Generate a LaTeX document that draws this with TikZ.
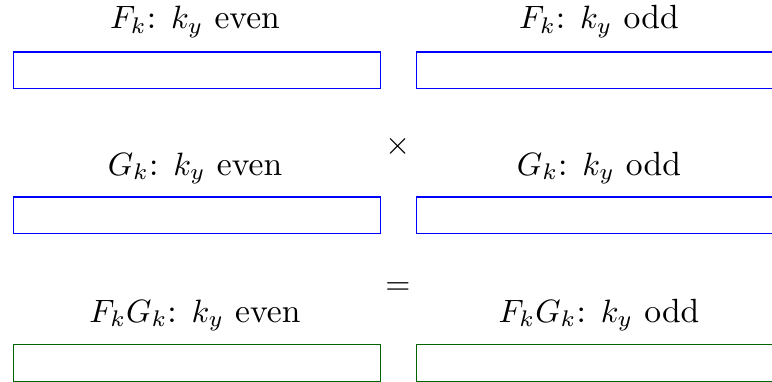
\documentclass[tikz,border=0pt]{standalone}
\definecolor{dkgreen}{RGB}{0,100,0}
\begin{document}
\begin{tikzpicture}[x=0.3096pt,y=-0.3096pt,
  fbox/.style={draw=blue,line width=0.4pt,minimum width=4cm,minimum height=0.4cm,inner sep=0pt,outer sep=0pt},
  gbox/.style={fbox,draw=dkgreen},
  lbl/.style={anchor=base,inner sep=0pt,font=\fontsize{10.4}{12}\selectfont}]
\clip (0,0) rectangle (772,381);
\useasboundingbox (0,0) rectangle (772,381);
% row 1
\node[lbl] (t1) at (195,28.5) {$F_k$: $k_y$ even};
\node[lbl] (t2) at (599,28.5) {$F_k$: $k_y$ odd};
\node[fbox] (b1) at (197,70.4) {};
\node[fbox] (b2) at (600.3,70.4) {};
% times
\node (times) at (398,146) {$\times$};
% row 2
\node[lbl] (t3) at (195,175) {$G_k$: $k_y$ even};
\node[lbl] (t4) at (599,175) {$G_k$: $k_y$ odd};
\node[fbox] (b3) at (197,215.4) {};
\node[fbox] (b4) at (600.3,215.4) {};
% equals
\node (eq) at (398,289) {$=$};
% row 3
\node[lbl] (t5) at (195,322) {$F_kG_k$: $k_y$ even};
\node[lbl] (t6) at (599,322) {$F_kG_k$: $k_y$ odd};
\node[gbox] (b5) at (197,362.9) {};
\node[gbox] (b6) at (600.3,362.9) {};
\end{tikzpicture}
\end{document}
